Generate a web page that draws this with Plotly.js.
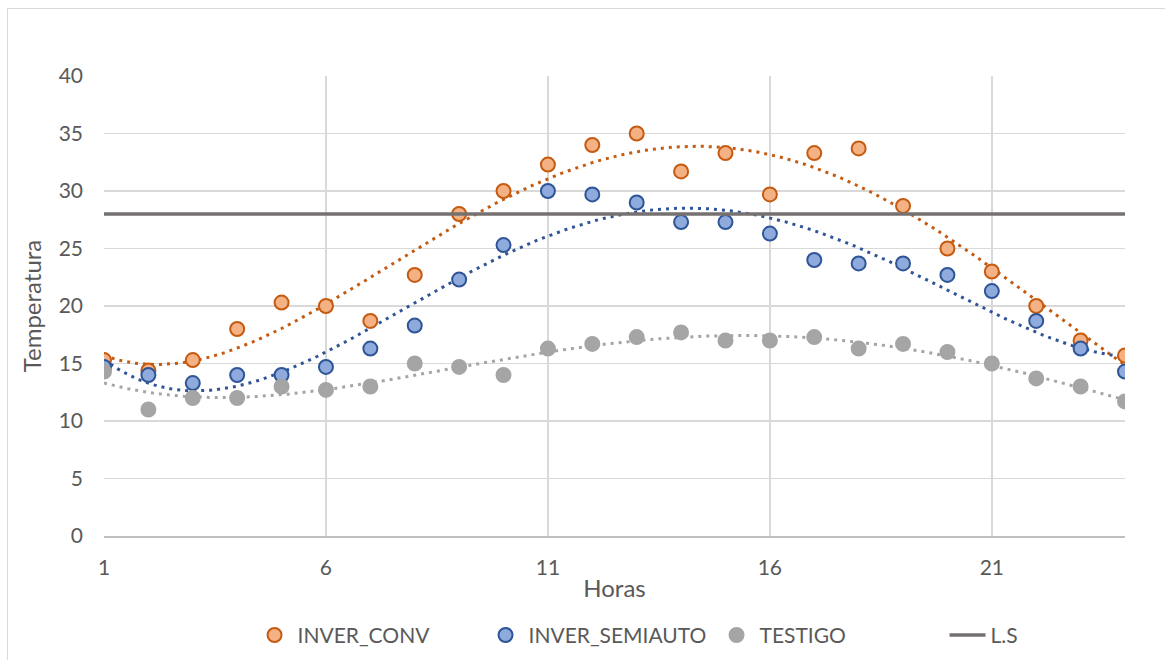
<!DOCTYPE html>
<html>
<head>
<meta charset="utf-8">
<script src="https://cdn.plot.ly/plotly-3.0.1.min.js"></script>
<style>
  html, body { margin: 0; padding: 0; background: #fff; overflow: hidden; }
  #chart {
    position: absolute; left: 7px; top: 8px;
    width: 1200px; height: 660px;
    border-left: 1px solid #d9d9d9; border-top: 1px solid #d9d9d9;
  }
</style>
</head>
<body>
<div id="chart"></div>
<script>
const horas = [1, 2, 3, 4, 5, 6, 7, 8, 9, 10, 11, 12, 13, 14, 15, 16, 17, 18, 19, 20, 21, 22, 23, 24];
const inverConv = [15.3, 14.4, 15.3, 18, 20.3, 20, 18.7, 22.7, 28, 30, 32.3, 34, 35, 31.7, 33.3, 29.7, 33.3, 33.7, 28.7, 25, 23, 20, 17, 15.7];
const inverSemiauto = [14.7, 14, 13.3, 14, 14, 14.7, 16.3, 18.3, 22.3, 25.3, 30, 29.7, 29, 27.3, 27.3, 26.3, 24, 23.7, 23.7, 22.7, 21.3, 18.7, 16.3, 14.3];
const testigo = [14.3, 11, 12, 12, 13, 12.7, 13, 15, 14.7, 14, 16.3, 16.7, 17.3, 17.7, 17, 17, 17.3, 16.3, 16.7, 16, 15, 13.7, 13, 11.7];
const limiteSuperior = 28;
const trendOrder = 4;

// least squares polynomial, x scaled to [-1, 1] to keep it stable
function polyTrend(xs, ys, order) {
  const mid = (xs[0] + xs[xs.length - 1]) / 2;
  const half = (xs[xs.length - 1] - xs[0]) / 2;
  const n = order + 1;
  const A = [];
  for (let i = 0; i < n; i++) A.push(new Array(n + 1).fill(0));
  xs.forEach((x, k) => {
    const t = (x - mid) / half;
    for (let i = 0; i < n; i++) {
      for (let j = 0; j < n; j++) A[i][j] += Math.pow(t, i + j);
      A[i][n] += ys[k] * Math.pow(t, i);
    }
  });
  for (let c = 0; c < n; c++) {
    let p = c;
    for (let r = c + 1; r < n; r++) if (Math.abs(A[r][c]) > Math.abs(A[p][c])) p = r;
    [A[c], A[p]] = [A[p], A[c]];
    for (let r = 0; r < n; r++) {
      if (r === c) continue;
      const f = A[r][c] / A[c][c];
      for (let j = c; j <= n; j++) A[r][j] -= f * A[c][j];
    }
  }
  const coef = A.map((row, i) => row[n] / row[i]);
  const tx = [], ty = [];
  for (let x = xs[0]; x <= xs[xs.length - 1] + 1e-9; x += 0.1) {
    const t = (x - mid) / half;
    tx.push(x);
    ty.push(coef.reduce((s, c, i) => s + c * Math.pow(t, i), 0));
  }
  return { x: tx, y: ty };
}

function createChart() {
  const series = [
    { name: 'INVER_CONV', y: inverConv, fill: '#F4B183', edge: '#C55A11', trend: '#C55A11' },
    { name: 'INVER_SEMIAUTO', y: inverSemiauto, fill: '#8FAADC', edge: '#2F5597', trend: '#2F5597' },
    { name: 'TESTIGO', y: testigo, fill: '#A5A5A5', edge: '#A5A5A5', trend: '#A5A5A5' }
  ];

  const traces = [];
  // dotted trendlines first, under the markers
  series.forEach(s => {
    const tr = polyTrend(horas, s.y, trendOrder);
    traces.push({
      x: tr.x, y: tr.y, mode: 'lines', type: 'scatter', showlegend: false,
      hoverinfo: 'skip',
      line: { color: s.trend, width: 3, dash: '3px,5px' }
    });
  });
  series.forEach(s => {
    traces.push({
      x: horas, y: s.y, mode: 'markers', type: 'scatter', name: s.name,
      marker: { size: 14, color: s.fill, line: { color: s.edge, width: 2 } }
    });
  });
  traces.push({
    x: [horas[0], horas[horas.length - 1]],
    y: [limiteSuperior, limiteSuperior],
    mode: 'lines', type: 'scatter', name: 'L.S',
    line: { color: '#767171', width: 3.5 }
  });

  const font = { family: 'Lato, "Open Sans", sans-serif', size: 21, color: '#595959' };
  const titleFont = { family: 'Lato, "Open Sans", sans-serif', size: 24, color: '#595959' };

  const layout = {
    width: 1200, height: 660,
    margin: { l: 96, r: 83, t: 67, b: 133 },
    paper_bgcolor: '#ffffff', plot_bgcolor: '#ffffff',
    font: font,
    showlegend: true,
    legend: {
      orientation: 'h', x: 0.597, xanchor: 'center', y: -0.216, yanchor: 'middle',
      font: font, entrywidth: 180, entrywidthmode: 'pixels', itemwidth: 36,
      traceorder: 'normal'
    },
    xaxis: {
      title: { text: 'Horas', font: titleFont, standoff: 2 },
      range: [1, 24], tick0: 1, dtick: 5,
      showgrid: true, gridcolor: '#d9d9d9', gridwidth: 1.5,
      zeroline: false, showline: true, linecolor: '#bfbfbf', linewidth: 1.5,
      ticks: '', ticklabelstandoff: 12, tickfont: font
    },
    yaxis: {
      title: { text: 'Temperatura', font: titleFont, standoff: 10 },
      range: [0, 40], dtick: 5,
      showgrid: true, gridcolor: '#d9d9d9', gridwidth: 1.5,
      zeroline: false, showline: false,
      ticks: '', ticklabelstandoff: 20, tickfont: font
    }
  };

  Plotly.newPlot('chart', traces, layout, { displayModeBar: false, staticPlot: true });
}

if (document.readyState === 'loading') {
  document.addEventListener('DOMContentLoaded', createChart);
} else {
  createChart();
}
</script>
</body>
</html>
